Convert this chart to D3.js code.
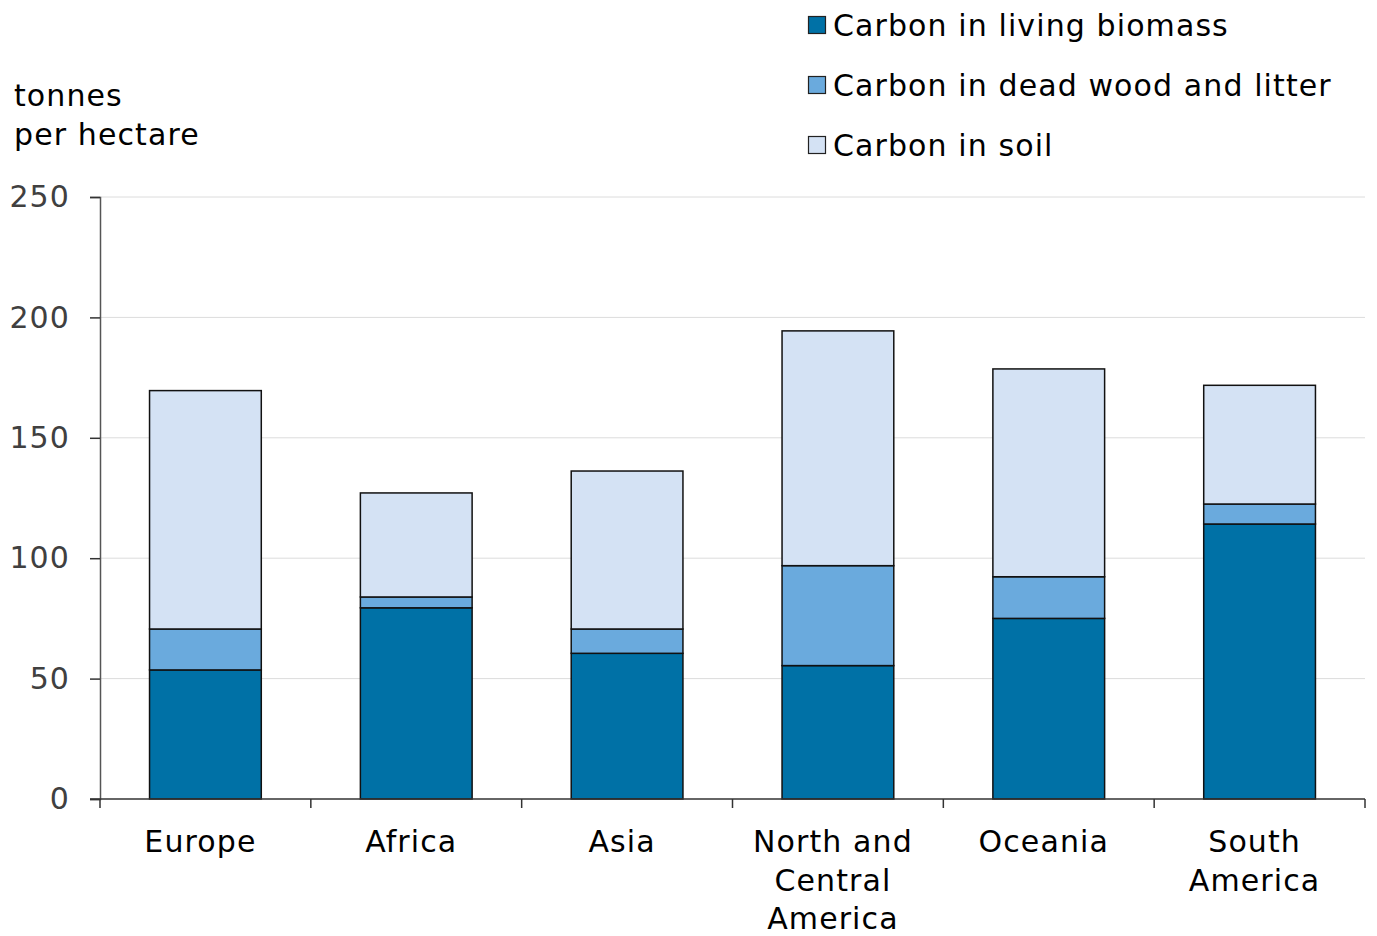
<!DOCTYPE html>
<html>
<head>
<meta charset="utf-8">
<script src="https://cdn.jsdelivr.net/npm/d3@7"></script>
<style>
  html, body { margin: 0; padding: 0; background: #fff; }
  svg { display: block; font-family: "DejaVu Sans", Verdana, sans-serif; }
  svg text { letter-spacing: 1.1px; }
</style>
</head>
<body>
<svg id="chart" width="1377" height="936"></svg>
<script>
// Forest carbon stock by region, tonnes per hectare
const regions = [["Europe"], ["Africa"], ["Asia"], ["North and", "Central", "America"], ["Oceania"], ["South", "America"]];
const livingBiomass = [53.6, 79.4, 60.5, 55.4, 75.0, 114.2];
const deadWoodLitter = [17.0, 4.5, 10.1, 41.5, 17.3, 8.3];
const soil = [99.0, 43.2, 65.6, 97.5, 86.3, 49.3];
const seriesNames = ["Carbon in living biomass", "Carbon in dead wood and litter", "Carbon in soil"];
const seriesColors = ["#0071a6", "#6aaadd", "#d4e2f4"];
const yTicks = [0, 50, 100, 150, 200, 250];

const svg = d3.select("#chart");
const margin = { left: 100, right: 12, top: 197, bottom: 137 };
const width = 1377, height = 936;

const keys = ["living", "dead", "soil"];
const rows = regions.map((r, i) => ({
  region: r.join(" "),
  lines: r,
  living: livingBiomass[i],
  dead: deadWoodLitter[i],
  soil: soil[i]
}));

const x = d3.scaleBand()
  .domain(rows.map(d => d.region))
  .range([margin.left, width - margin.right])
  .paddingInner(0.47)
  .paddingOuter(0.235);

const y = d3.scaleLinear()
  .domain([0, 250])
  .range([height - margin.bottom, margin.top]);

// horizontal gridlines
svg.append("g")
  .selectAll("line")
  .data(yTicks.slice(1))
  .join("line")
  .attr("x1", margin.left)
  .attr("x2", width - margin.right)
  .attr("y1", d => y(d))
  .attr("y2", d => y(d))
  .attr("stroke", "#dcdcdc")
  .attr("stroke-width", 1);

// stacked bars
const stacked = d3.stack().keys(keys)(rows);
svg.append("g")
  .selectAll("g")
  .data(stacked)
  .join("g")
  .attr("fill", (d, i) => seriesColors[i])
  .selectAll("rect")
  .data(d => d)
  .join("rect")
  .attr("x", d => x(d.data.region))
  .attr("width", x.bandwidth())
  .attr("y", d => y(d[1]))
  .attr("height", d => y(d[0]) - y(d[1]))
  .attr("stroke", "#111")
  .attr("stroke-width", 1.5);

// y axis
const yAxis = svg.append("g")
  .attr("transform", `translate(${margin.left},0)`)
  .call(d3.axisLeft(y).tickValues(yTicks).tickSize(10).tickPadding(20));
yAxis.select(".domain").attr("stroke", "#555").attr("stroke-width", 1.5);
yAxis.selectAll(".tick line").attr("stroke", "#333").attr("stroke-width", 1.5);
yAxis.selectAll(".tick text")
  .attr("font-size", 30)
  .attr("font-family", "DejaVu Sans, Verdana, sans-serif")
  .attr("fill", "#404040");

// x axis with band-boundary ticks
const xAxisG = svg.append("g")
  .attr("transform", `translate(0,${y(0)})`);
xAxisG.append("line")
  .attr("x1", margin.left - 10)
  .attr("x2", width - margin.right)
  .attr("stroke", "#333")
  .attr("stroke-width", 1.5);
const boundaries = d3.range(rows.length + 1).map(i => margin.left + i * (width - margin.right - margin.left) / rows.length);
xAxisG.selectAll("line.tick")
  .data(boundaries)
  .join("line")
  .attr("class", "tick")
  .attr("x1", d => d)
  .attr("x2", d => d)
  .attr("y1", 0)
  .attr("y2", 9)
  .attr("stroke", "#333")
  .attr("stroke-width", 1.5);

// category labels
const labelCx = d => x(d.region) + x.bandwidth() / 2 - 5;
const labels = svg.append("g")
  .selectAll("text")
  .data(rows)
  .join("text")
  .attr("text-anchor", "middle")
  .attr("font-size", 30)
  .attr("fill", "#000")
  .attr("x", labelCx)
  .attr("y", y(0) + 53);
labels.selectAll("tspan")
  .data(d => d.lines.map(l => ({ l, cx: labelCx(d) })))
  .join("tspan")
  .attr("x", d => d.cx)
  .attr("dy", (d, i) => i === 0 ? 0 : 38.5)
  .text(d => d.l);

// unit label
svg.append("text")
  .attr("x", 14)
  .attr("y", 106)
  .attr("font-size", 30)
  .attr("fill", "#000")
  .selectAll("tspan")
  .data(["tonnes", "per hectare"])
  .join("tspan")
  .attr("x", 14)
  .attr("dy", (d, i) => i === 0 ? 0 : 39)
  .text(d => d);

// legend
const legend = svg.append("g")
  .attr("transform", "translate(808,0)")
  .selectAll("g")
  .data(seriesNames)
  .join("g")
  .attr("transform", (d, i) => `translate(0,${i * 60})`);
legend.append("rect")
  .attr("x", 0.5)
  .attr("y", 16.5)
  .attr("width", 17)
  .attr("height", 17)
  .attr("fill", (d, i) => seriesColors[i])
  .attr("stroke", "#222")
  .attr("stroke-width", 1.2);
legend.append("text")
  .attr("x", 25)
  .attr("y", 36)
  .attr("font-size", 30)
  .attr("fill", "#000")
  .text(d => d);
</script>
</body>
</html>
